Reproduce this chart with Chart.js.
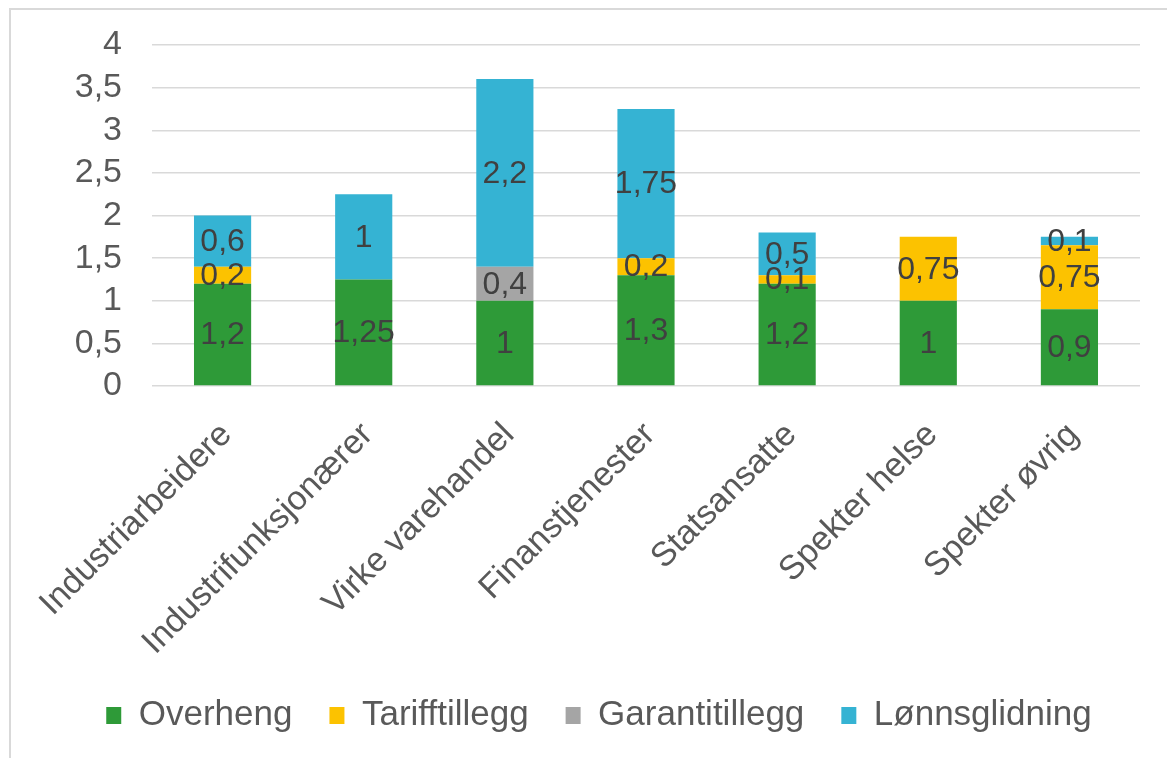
<!DOCTYPE html>
<html>
<head>
<meta charset="utf-8">
<script src="https://cdn.jsdelivr.net/npm/chart.js@4.4.1/dist/chart.umd.min.js"></script>
<style>
  html, body { margin: 0; padding: 0; background: #ffffff; overflow: hidden; }
  #wrap { position: relative; width: 1167px; height: 758px; }
  #frame { position: absolute; left: 9px; top: 8px; width: 1400px; height: 1000px;
           border-left: 2px solid #d9d9d9; border-top: 2px solid #d9d9d9; pointer-events: none; }
  canvas { position: absolute; left: 0; top: 0; }
</style>
</head>
<body>
<div id="wrap">
  <canvas id="c" width="1167" height="758"></canvas>
  <div id="frame"></div>
</div>
<script>
const categories = ['Industriarbeidere', 'Industrifunksjonærer', 'Virke varehandel', 'Finanstjenester', 'Statsansatte', 'Spekter helse', 'Spekter øvrig'];
const overheng      = [1.2, 1.25, 1.0, 1.3, 1.2, 1.0, 0.9];
const tarifftillegg = [0.2, 0,    0,   0.2, 0.1, 0.75, 0.75];
const garantitillegg= [0,   0,    0.4, 0,   0,   0,    0];
const lonnsglidning = [0.6, 1.0,  2.2, 1.75, 0.5, 0,   0.1];
const seriesNames = ['Overheng', 'Tarifftillegg', 'Garantitillegg', 'Lønnsglidning'];
const yTicks = [0, 0.5, 1, 1.5, 2, 2.5, 3, 3.5, 4];

const colors = ['#2e9a38', '#fcc200', '#a5a5a5', '#35b3d3'];
const fmt = v => String(v).replace('.', ',');
const FONT = "'Liberation Sans', Arial, sans-serif";

const labelPlugin = {
  id: 'segLabels',
  afterDatasetsDraw(chart) {
    const ctx = chart.ctx;
    ctx.save();
    ctx.font = '32px ' + FONT;
    ctx.fillStyle = '#404040';
    ctx.textAlign = 'center';
    ctx.textBaseline = 'middle';
    chart.data.datasets.forEach((ds, di) => {
      const meta = chart.getDatasetMeta(di);
      meta.data.forEach((el, i) => {
        const v = ds.data[i];
        if (!v) return;
        const y = (el.y + el.base) / 2;
        ctx.fillText(fmt(v), el.x, y + 1);
      });
    });
    ctx.restore();
  }
};

const seriesData = [overheng, tarifftillegg, garantitillegg, lonnsglidning];

new Chart(document.getElementById('c'), {
  type: 'bar',
  data: {
    labels: categories,
    datasets: seriesNames.map((n, i) => ({
      label: n,
      data: seriesData[i],
      backgroundColor: colors[i],
      borderWidth: 0,
      barPercentage: 0.405,
      categoryPercentage: 1.0
    }))
  },
  options: {
    responsive: false,
    animation: false,
    devicePixelRatio: 1,
    layout: { padding: { left: 58, right: 27, top: 45, bottom: 15 } },
    plugins: {
      legend: {
        position: 'bottom',
        labels: {
          color: '#595959',
          font: { family: FONT, size: 35 },
          boxWidth: 15,
          boxHeight: 17,
          padding: 37
        }
      },
      tooltip: { enabled: false }
    },
    scales: {
      x: {
        stacked: true,
        grid: { display: false },
        border: { display: false },
        afterFit: s => { s.height = 275; s.paddingLeft = 0; s.paddingRight = 0; },
        ticks: {
          color: '#595959',
          font: { family: FONT, size: 34 },
          minRotation: 45,
          maxRotation: 45,
          padding: 21,
          labelOffset: 4
        }
      },
      y: {
        stacked: true,
        min: 0,
        max: 4,
        afterFit: s => { s.width = 94; s.paddingTop = 0; s.paddingBottom = 0; },
        afterBuildTicks: s => { s.ticks = yTicks.map(v => ({ value: v })); },
        grid: { color: '#d9d9d9', lineWidth: 1.5, drawTicks: false },
        border: { display: false },
        ticks: {
          autoSkip: false,
          color: '#595959',
          font: { family: FONT, size: 34 },
          padding: 30,
          callback: v => fmt(v)
        }
      }
    }
  },
  plugins: [labelPlugin]
});
</script>
</body>
</html>
